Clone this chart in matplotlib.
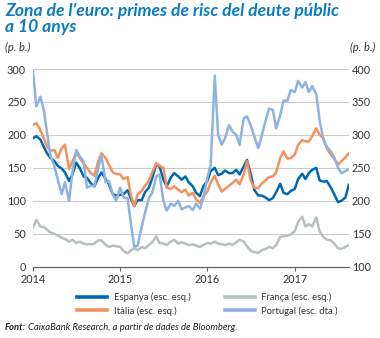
import matplotlib
matplotlib.use("Agg")
import matplotlib.pyplot as plt
import pandas as pd
from matplotlib.lines import Line2D

# ---- data (semi-monthly readings) ----
dates = pd.date_range("2014-01-01", periods=88, freq="SMS")

espanya = [195, 198, 193, 182, 172, 165, 160, 153, 149, 143, 130, 140, 158, 150, 137, 135, 126, 122, 135, 143,
           133, 125, 110, 108, 109, 110, 116, 103, 92, 101, 101, 113, 120, 134, 156, 152, 132, 122, 135, 142,
           137, 132, 137, 128, 122, 112, 107, 122, 130, 145, 150, 139, 141, 146, 142, 142, 147,
           140, 152, 162, 140, 117, 108, 108, 105, 101, 104, 113, 126, 112, 110, 115, 118, 133, 141, 133, 142,
           147, 150, 131, 129, 130, 120, 110, 98, 100, 105, 124]

italia = [215, 218, 207, 195, 182, 176, 177, 165, 180, 185, 148, 160, 172, 166, 156, 150, 142, 138, 160, 172,
          165, 155, 143, 141, 140, 133, 136, 108, 92, 110, 115, 123, 130, 143, 157, 153, 150, 120, 118, 122,
          117, 113, 117, 108, 112, 102, 97, 106, 114, 128, 138, 125, 114, 118, 123, 127, 132,
          125, 140, 160, 130, 120, 119, 126, 131, 136, 137, 143, 165, 175, 164, 165, 170, 185, 192, 190, 190,
          198, 210, 200, 195, 180, 170, 164, 155, 160, 166, 172]

franca = [60, 71, 61, 60, 56, 52, 50, 47, 44, 42, 38, 41, 36, 38, 35, 34, 34, 35, 40, 40,
          33, 30, 32, 31, 30, 24, 20, 25, 28, 25, 30, 28, 33, 37, 46, 36, 35, 33, 38, 41,
          35, 37, 35, 33, 34, 32, 30, 33, 36, 35, 38, 35, 34, 33, 35, 33, 37,
          41, 38, 31, 24, 22, 21, 25, 27, 30, 28, 33, 45, 46, 47, 49, 54, 68, 76, 61, 65,
          61, 75, 54, 45, 41, 40, 35, 28, 27, 30, 33]

portugal = [397, 343, 358, 338, 303, 268, 252, 232, 210, 228, 200, 243, 277, 268, 260, 220, 223, 222, 250, 268,
            228, 230, 210, 200, 220, 205, 204, 165, 130, 132, 160, 182, 204, 212, 237, 240, 200, 185, 196, 192,
            200, 187, 190, 192, 186, 196, 188, 204, 235, 255, 390, 300, 285, 295, 315, 305, 300,
            285, 325, 328, 314, 298, 280, 298, 322, 340, 338, 310, 330, 352, 352, 368, 365, 382, 372, 380, 365,
            374, 362, 322, 292, 282, 275, 266, 250, 242, 245, 248]

labels = ["Espanya (esc. esq.)", "Itàlia (esc. esq.)", "França (esc. esq.)", "Portugal (esc. dta.)"]
year_ticks = ["2014", "2015", "2016", "2017"]
left_ticks = [0, 50, 100, 150, 200, 250, 300]
right_ticks = [100, 150, 200, 250, 300, 350, 400]

# ---- style ----
FONT = ["Lato", "DejaVu Sans"]
plt.rcParams["font.family"] = FONT
c_es, c_it, c_fr, c_pt = "#0068b3", "#f3925e", "#b7c0c1", "#8db3e2"
txt = "#333333"
lw = 1.8

W, H = 380, 338
fig = plt.figure(figsize=(W / 100, H / 100), dpi=100)
fig.patch.set_facecolor("white")

L, R, T, B = 33, 349, 69, 266.7
ax = fig.add_axes([L / W, 1 - B / H, (R - L) / W, (B - T) / H])
ax2 = ax.twinx()

ax.plot(dates, franca, color=c_fr, lw=lw, solid_joinstyle="round", zorder=3)
ax.plot(dates, espanya, color=c_es, lw=lw, solid_joinstyle="round", zorder=4)
ax.plot(dates, italia, color=c_it, lw=lw, solid_joinstyle="round", zorder=5)
ax2.plot(dates, portugal, color=c_pt, lw=lw, solid_joinstyle="round", zorder=6)

x0 = pd.Timestamp("2014-01-01")
x1 = pd.Timestamp("2017-08-16")
ax.set_xlim(x0, x1)
ax.set_ylim(0, 300)
ax2.set_ylim(100, 400)

ax.set_yticks(left_ticks)
ax2.set_yticks(right_ticks)
ax.set_xticks([pd.Timestamp(y + "-01-01") for y in year_ticks])
ax.set_xticklabels(year_ticks)

for a in (ax, ax2):
    for s in a.spines.values():
        s.set_visible(False)
ax.spines["bottom"].set_visible(True)
ax.spines["bottom"].set_color("#666666")
ax.spines["bottom"].set_linewidth(0.9)
ax.tick_params(axis="x", length=3, width=0.8, color="#666666", labelsize=7.8, labelcolor=txt, pad=2)
ax.tick_params(axis="y", length=0, labelsize=7.8, labelcolor=txt, pad=5)
ax2.tick_params(axis="y", length=0, labelsize=7.8, labelcolor=txt, pad=2)
ax.grid(axis="y", color="#cccccc", lw=0.8)
ax.set_axisbelow(True)

# ---- titles ----
fig.text(5 / W, 1 - 3 / H, "Zona de l\u2019euro: primes de risc del deute públic\na 10 anys",
         ha="left", va="top", fontsize=12.6, fontweight="bold", fontstyle="italic",
         color="#0a7cc2", linespacing=1.0)
fig.text(5 / W, 1 - 47 / H, "(p. b.)", ha="left", va="center", fontsize=8, fontstyle="italic", color=txt)
fig.text(375 / W, 1 - 47 / H, "(p. b.)", ha="right", va="center", fontsize=8, fontstyle="italic", color=txt)

# ---- legend ----
handles = [Line2D([], [], color=c, lw=2.6) for c in (c_es, c_it, c_fr, c_pt)]
leg = fig.legend(handles, labels, ncol=2, loc="center left", bbox_to_anchor=(77 / W, 1 - 304 / H),
                 frameon=False, fontsize=6.8, handlelength=3.2, handletextpad=0.7,
                 columnspacing=3.6, labelspacing=0.42, borderpad=0, borderaxespad=0)
for t in leg.get_texts():
    t.set_color(txt)

# ---- source ----
t1 = fig.text(5 / W, 1 - 327 / H, "Font:", ha="left", va="center", fontsize=6.8,
              fontweight="bold", fontstyle="italic", color="#222222")
fig.canvas.draw()
bb = t1.get_window_extent()
fig.text((bb.x1 + 2) / W, 1 - 327 / H, "CaixaBank Research, a partir de dades de Bloomberg.",
         ha="left", va="center", fontsize=6.8, fontstyle="italic", color="#222222")

fig.savefig("out.png", dpi=100)
